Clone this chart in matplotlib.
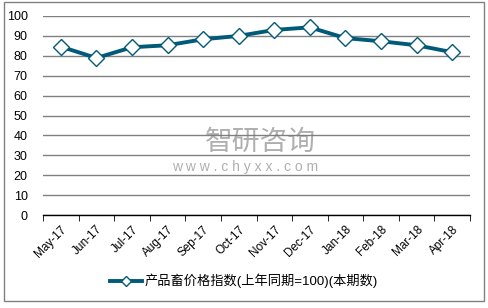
import numpy as np
import matplotlib.pyplot as plt
from matplotlib.patches import Rectangle

plt.rcParams['font.family'] = ['Liberation Sans', 'Noto Sans CJK SC', 'DejaVu Sans']

months = ['May-17', 'Jun-17', 'Jul-17', 'Aug-17', 'Sep-17', 'Oct-17',
          'Nov-17', 'Dec-17', 'Jan-18', 'Feb-18', 'Mar-18', 'Apr-18']
index_vals = [84.6, 78.9, 84.3, 85.3, 88.3, 90.0, 93.0, 94.3, 88.9, 87.3, 85.3, 81.8]
series_name = '产品畜价格指数(上年同期=100)(本期数)'
yticks = [0, 10, 20, 30, 40, 50, 60, 70, 80, 90, 100]

fig = plt.figure(figsize=(4.89, 3.08), dpi=100)
ax = fig.add_axes([43/489, 1 - 215/308, 427/489, 199/308])

x = np.arange(len(months))
line, = ax.plot(x, index_vals, color='#005A78', lw=2.8, marker='D', ms=8,
                mfc='white', mec='#005A78', mew=1.0, label=series_name, zorder=3)

ax.set_xlim(-0.5, len(months) - 0.5)
ax.set_ylim(0, 100)
ax.set_yticks(yticks)
ax.set_xticks(x)
ax.set_xticklabels(months, rotation=45, ha='right', rotation_mode='anchor', fontsize=8.5)
ax.set_xticks(np.arange(-0.5, len(months)), minor=True)
ax.tick_params(axis='x', which='major', length=0, pad=6)
ax.tick_params(axis='x', which='minor', length=4, direction='out', color='black')
ax.tick_params(axis='y', length=0, labelsize=9, pad=11)

ax.grid(axis='y', color='#808080', lw=1)
ax.set_axisbelow(True)
for s in ['left', 'right', 'top']:
    ax.spines[s].set_visible(False)
ax.spines['bottom'].set_color('black')
ax.spines['bottom'].set_linewidth(1)
ax.spines['bottom'].set_zorder(2.5)

# watermark
fig.text(260/489, 1 - 142/308, '智研咨询', fontsize=20, color='#7a7a7a', alpha=0.6,
         ha='center', va='center', family=['Noto Sans CJK SC'])
fig.text(245/489, 1 - 167/308, 'w w w . c h y x x . c o m', fontsize=10, color='#7a7a7a',
         alpha=0.6, ha='center', va='center')

leg = fig.legend(handles=[line], loc='center', bbox_to_anchor=(244/489, 1 - 281/308),
                 frameon=False, fontsize=9.5, handlelength=2.4, handletextpad=0.2,
                 markerscale=0.7)
for t in leg.get_texts():
    t.set_family(['Liberation Sans', 'Noto Sans CJK SC'])

fig.patches.append(Rectangle((4/489, 1 - 301/308), 480/489, 299/308,
                             transform=fig.transFigure, fill=False,
                             edgecolor='#808080', lw=1))

fig.savefig('out.png', dpi=100)
